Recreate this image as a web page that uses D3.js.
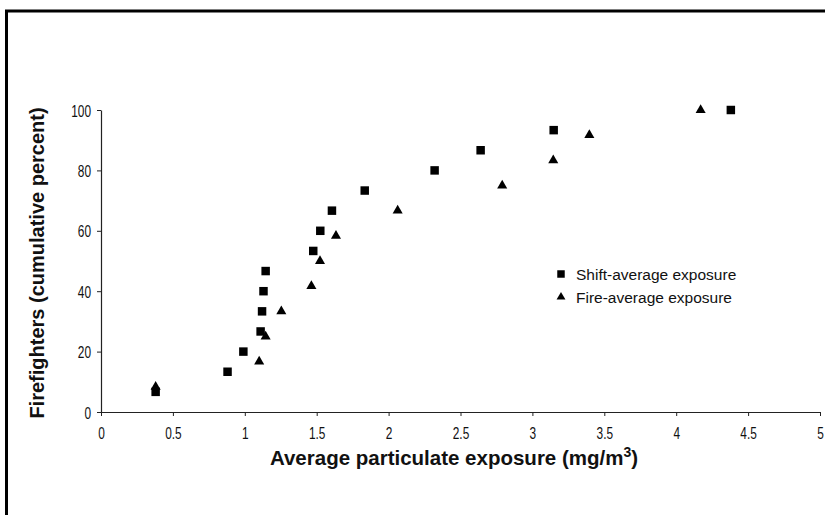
<!DOCTYPE html>
<meta charset="utf-8">
<head>
<style>
body { margin: 0; background: #fff; }
.tick text { font-family: "Liberation Sans", Arial, sans-serif; font-size: 16.5px; fill: #111; }
.tick line, .domain { stroke: #222; }
.lab { font-family: "Liberation Sans", Arial, sans-serif; font-weight: bold; fill: #111; }
.leg { font-family: "Liberation Sans", Arial, sans-serif; font-size: 15.5px; fill: #111; }
</style>
</head>
<body>
<script src="https://d3js.org/d3.v7.min.js"></script>
<div id="chart"></div>
<script>

// shift-average exposure (15 firefighters)
var shiftX = [0.38, 0.88, 0.99, 1.11, 1.12, 1.13, 1.145, 1.476, 1.525, 1.606, 1.834, 2.32, 2.64, 3.148, 4.38];
var shiftY = [6.67, 13.33, 20, 26.67, 33.33, 40, 46.67, 53.33, 60, 66.67, 73.33, 80, 86.67, 93.33, 100];

// fire-average exposure (12 firefighters)
var fireX = [0.38, 1.10, 1.145, 1.254, 1.463, 1.523, 1.634, 2.063, 2.79, 3.145, 3.396, 4.17];
var fireY = [8.33, 16.67, 25, 33.33, 41.67, 50, 58.33, 66.67, 75, 83.33, 91.67, 100];

var xTicks = [0, 0.5, 1, 1.5, 2, 2.5, 3, 3.5, 4, 4.5, 5];
var yTicks = [0, 20, 40, 60, 80, 100];
var legendLabels = ["Shift-average exposure", "Fire-average exposure"];

var width = 825, height = 515;

var svg = d3.select('#chart').append('svg')
    .attr('width', width)
    .attr('height', height);

// frame (top + left edge only)
svg.append('path')
    .attr('d', 'M6.5,515 V11 H825')
    .attr('fill', 'none')
    .attr('stroke', '#000')
    .attr('stroke-width', 3);

var x = d3.scaleLinear().domain([0, 5]).range([101, 820]);
var y = d3.scaleLinear().domain([0, 100]).range([412, 110]);

// narrow tick font: squeeze horizontally
svg.append('g')
    .attr('transform', 'translate(0,412)')
    .call(d3.axisBottom(x).tickValues(xTicks).tickSize(4).tickSizeOuter(0).tickFormat(d3.format('')))
    .call(g => g.selectAll('.tick text').attr('y', 0).attr('dy', 0)
        .attr('transform', 'translate(0,26.5) scale(0.72,1)'));

svg.append('g')
    .attr('transform', 'translate(101,0)')
    .call(d3.axisLeft(y).tickValues(yTicks).tickSize(4).tickSizeOuter(0))
    .call(g => g.selectAll('.tick text').attr('x', 0).attr('dy', 0)
        .attr('transform', 'translate(-10,6) scale(0.72,1)'));

svg.selectAll('.domain').attr('stroke-width', 1.2);

var sq = d3.symbol().type(d3.symbolSquare).size(72);
var tri = d3.symbol().type(d3.symbolTriangle).size(44);

svg.append('g').selectAll('path')
  .data(shiftX.map((v, i) => [v, shiftY[i]]))
  .enter().append('path')
    .attr('d', sq)
    .attr('transform', d => 'translate(' + x(d[0]) + ',' + y(d[1]) + ')')
    .attr('fill', '#000');

svg.append('g').selectAll('path')
  .data(fireX.map((v, i) => [v, fireY[i]]))
  .enter().append('path')
    .attr('d', tri)
    .attr('transform', d => 'translate(' + x(d[0]) + ',' + y(d[1]) + ')')
    .attr('fill', '#000');

// legend
var leg = svg.append('g').attr('transform', 'translate(561,274)');
leg.append('path').attr('d', d3.symbol().type(d3.symbolSquare).size(56)).attr('fill', '#000');
leg.append('path').attr('d', d3.symbol().type(d3.symbolTriangle).size(34))
    .attr('transform', 'translate(0,23)').attr('fill', '#000');
leg.selectAll('text').data(legendLabels).enter().append('text')
    .attr('class', 'leg')
    .attr('x', 15)
    .attr('y', (d, i) => i * 23 + 6)
    .text(d => d);

// axis titles
var xt = svg.append('text')
    .attr('class', 'lab')
    .attr('x', 454).attr('y', 465)
    .attr('text-anchor', 'middle')
    .style('font-size', '20.5px')
    .text('Average particulate exposure (mg/m');
xt.append('tspan').attr('dy', -8).style('font-size', '14px').text('3');
xt.append('tspan').attr('dy', 8).text(')');

svg.append('text')
    .attr('class', 'lab')
    .attr('transform', 'translate(44,263) rotate(-90)')
    .attr('text-anchor', 'middle')
    .style('font-size', '20px')
    .text('Firefighters (cumulative percent)');

</script>
</body>
